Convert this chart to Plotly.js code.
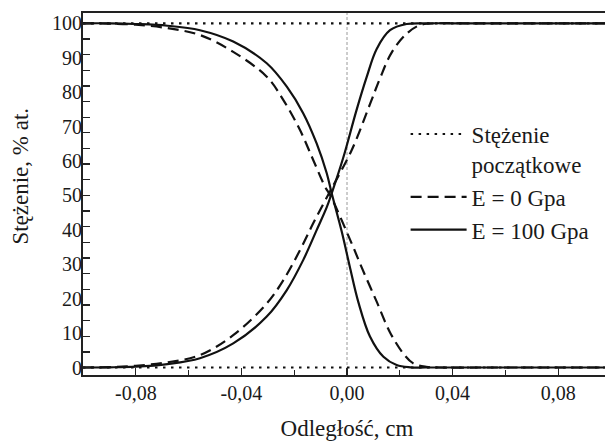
<!DOCTYPE html>
<html>
<head>
<meta charset="utf-8">
<script src="https://cdn.plot.ly/plotly-3.0.1.min.js"></script>
<style>
  html, body { margin: 0; padding: 0; overflow: hidden; background: #fff; }
  #chart { width: 620px; height: 441px; }
</style>
</head>
<body>
<div id="chart"></div>
<script>
// ---- data ----
var seriesNames = ['Stężenie<br>początkowe', 'E = 0 Gpa', 'E = 100 Gpa'];

// initial (step) concentration levels, % at.
var initialLevels = [100, 0];
var xLimits = [-0.1, 0.1];

// E = 0 GPa, decreasing component
var e0DownX = [-0.1, -0.09, -0.08, -0.068, -0.0557, -0.0431, -0.0304, -0.0241, -0.0178, -0.0128, -0.0083, -0.0062, 0.0018, 0.0056, 0.0112, 0.0163, 0.0213, 0.0251, 0.030, 0.035, 0.05, 0.07, 0.1];
var e0DownY = [100, 99.9, 99.6, 98.6, 96.6, 91.7, 84.5, 77.7, 69.0, 60.3, 52.5, 49.8, 36.0, 29.0, 19.2, 10.2, 4.1, 1.2, 0.2, 0, 0, 0, 0];
// E = 0 GPa, increasing component
var e0UpX = [-0.1, -0.09, -0.08, -0.068, -0.0557, -0.0431, -0.0304, -0.0241, -0.0178, -0.0128, -0.0083, -0.0062, 0.0018, 0.0087, 0.0125, 0.0169, 0.0226, 0.0277, 0.034, 0.045, 0.06, 0.08, 0.1];
var e0UpY = [0, 0.1, 0.5, 1.5, 3.6, 9.4, 18.6, 25.4, 34.1, 41.9, 48.5, 51.5, 63.2, 76.5, 84.0, 91.5, 97.0, 99.5, 100, 100, 100, 100, 100];

// E = 100 GPa, decreasing component
var e100DownX = [-0.1, -0.09, -0.08, -0.068, -0.0557, -0.0431, -0.0304, -0.0228, -0.0166, -0.0115, -0.0077, -0.0058, -0.002, 0.001, 0.0043, 0.0087, 0.0138, 0.0188, 0.024, 0.03, 0.05, 0.07, 0.1];
var e100DownY = [100, 100, 99.8, 99.3, 98.0, 94.7, 88.4, 81.6, 73.9, 65.1, 56.5, 50.6, 39.5, 29.5, 19.0, 9.0, 3.1, 0.7, 0.05, 0, 0, 0, 0];
// E = 100 GPa, increasing component
var e100UpX = [-0.1, -0.09, -0.08, -0.068, -0.0557, -0.0431, -0.0304, -0.0228, -0.0166, -0.0115, -0.0077, -0.0058, -0.0014, 0.0035, 0.0075, 0.0112, 0.0163, 0.0226, 0.03, 0.045, 0.06, 0.08, 0.1];
var e100UpY = [0, 0.05, 0.25, 1.0, 2.7, 7.0, 14.8, 22.5, 31.2, 39.9, 46.5, 50.6, 61.0, 74.5, 84.5, 92.5, 98.0, 99.8, 100, 100, 100, 100, 100];

// tick labels
var xTickVals = [-0.08, -0.04, 0, 0.04, 0.08];
var xTickText = ['-0,08', '-0,04', '0,00', '0,04', '0,08'];
var yTickVals = [0, 10, 20, 30, 40, 50, 60, 70, 80, 90, 100];
var yTickText = ['0', '10', '20', '30', '40', '50', '60', '70', '80', '90', '100'];

var xTitle = 'Odległość, cm';
var yTitle = 'Stężenie, % at.';

// ---- build traces ----
function joinSegments(a, b) { return a.concat([null], b); }

var initX = [], initY = [];
initialLevels.forEach(function (lvl, i) {
  if (i > 0) { initX.push(null); initY.push(null); }
  initX.push(xLimits[0], xLimits[1]);
  initY.push(lvl, lvl);
});

var serif = '"Liberation Serif", "Times New Roman", serif';
var ink = '#1a1a1a';

var traces = [
  {
    x: initX, y: initY, name: seriesNames[0], mode: 'lines',
    xaxis: 'x2', yaxis: 'y2',
    line: { color: '#111', width: 2.2, dash: '2.5px,5.5px' },
    connectgaps: false, hoverinfo: 'skip'
  },
  {
    x: joinSegments(e0DownX, e0UpX), y: joinSegments(e0DownY, e0UpY),
    name: seriesNames[1], mode: 'lines',
    line: { color: '#111', width: 2.2, dash: '11px,6px', shape: 'spline', smoothing: 1 },
    connectgaps: false
  },
  {
    x: joinSegments(e100DownX, e100UpX), y: joinSegments(e100DownY, e100UpY),
    name: seriesNames[2], mode: 'lines',
    line: { color: '#111', width: 2.2, shape: 'spline', smoothing: 1 },
    connectgaps: false
  }
];

var yRange = [-2.18, 103.0];

var layout = {
  width: 620, height: 441,
  margin: { l: 83, r: 9, t: 13, b: 66 },
  paper_bgcolor: '#fff', plot_bgcolor: '#fff',
  font: { family: serif, size: 20, color: ink },
  showlegend: true,
  legend: {
    x: 0.611, y: 0.725, xanchor: 'left', yanchor: 'top',
    bgcolor: 'rgba(255,255,255,0)', borderwidth: 0,
    font: { family: serif, size: 23, color: ink },
    itemwidth: 56, valign: 'top', tracegroupgap: 0
  },
  // primary x: minor tick marks every 0.02, frame
  xaxis: {
    range: xLimits, tickmode: 'linear', tick0: 0, dtick: 0.02,
    ticks: 'inside', ticklen: 5, tickwidth: 1.3, tickcolor: '#222',
    showticklabels: false,
    showline: true, linecolor: '#222', linewidth: 1.6, mirror: true,
    showgrid: false, zeroline: false,
    title: { text: xTitle, font: { family: serif, size: 23, color: ink }, standoff: 46 }
  },
  // overlay x: labelled major ticks
  xaxis2: {
    overlaying: 'x', side: 'bottom', anchor: 'y2',
    range: xLimits, tickmode: 'array', tickvals: xTickVals, ticktext: xTickText,
    ticks: 'inside', ticklen: 7, tickwidth: 1.3, tickcolor: '#222',
    ticklabelstandoff: 4,
    showline: false, showgrid: false, zeroline: false,
    tickfont: { family: serif, size: 20, color: ink }
  },
  // primary y: the reference's tick marks (22 equal steps, not aligned with labels)
  yaxis: {
    range: yRange, tickmode: 'linear', tick0: 0, dtick: 100 / 22,
    ticks: 'inside', ticklen: 7, tickwidth: 1.3, tickcolor: '#222',
    showticklabels: false,
    showline: true, linecolor: '#222', linewidth: 1.6, mirror: true,
    showgrid: false, zeroline: false
  },
  // overlay y: labels
  yaxis2: {
    overlaying: 'y', side: 'left', anchor: 'x2',
    range: yRange, tickmode: 'array', tickvals: yTickVals, ticktext: yTickText,
    ticks: '', showline: false, showgrid: false, zeroline: false,
    tickfont: { family: serif, size: 20, color: ink }
  },
  shapes: [
    { type: 'line', xref: 'x', yref: 'paper', x0: 0, x1: 0, y0: 0, y1: 1,
      line: { color: '#9a9a9a', width: 1, dash: '3px,2px' }, layer: 'below' }
  ],
  annotations: [
    { text: yTitle, xref: 'paper', yref: 'paper', x: -0.118, y: 0.55,
      xanchor: 'center', yanchor: 'middle', textangle: -90, showarrow: false,
      font: { family: serif, size: 23, color: ink } }
  ]
};

Plotly.newPlot('chart', traces, layout, { staticPlot: true, displayModeBar: false });
</script>
</body>
</html>
